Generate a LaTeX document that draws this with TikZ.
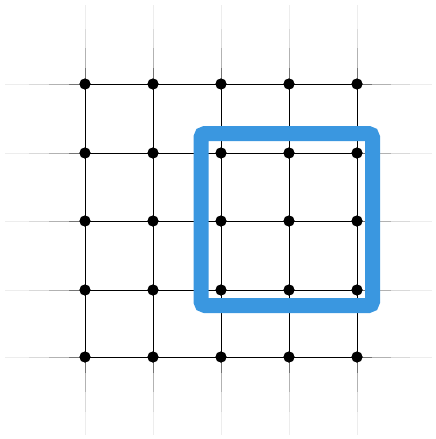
\documentclass[tikz,border=0pt]{standalone}
\usetikzlibrary{calc}
\definecolor{selblue}{RGB}{58,151,224}
\begin{document}
\begin{tikzpicture}[x=1pt,y=-1pt,
  dot/.style={circle,fill=black,inner sep=0pt,minimum size=11pt},
  gridline/.style={line width=0.9pt,black},
  fadeline/.style={line width=0.9pt,black,opacity=#1},
  sel/.style={draw=selblue,line width=15pt,rounded corners=4pt}]
\useasboundingbox (0,0) rectangle (436,439);
% dots
\foreach \i/\x in {1/85,2/153,3/221,4/289,5/357}
  \foreach \j/\y in {1/84,2/153,3/221,4/290,5/357}
    \node[dot] (d\i\j) at (\x,\y) {};
% end points of the fading extensions
\foreach \j/\y in {1/84,2/153,3/221,4/290,5/357} {
  \coordinate (L\j) at (5,\y);
  \coordinate (R\j) at (432,\y);
}
\foreach \i/\x in {1/85,2/153,3/221,4/289,5/357} {
  \coordinate (T\i) at (\x,5);
  \coordinate (B\i) at (\x,435);
}
% inner grid lines
\foreach \i in {1,2,3,4,5}
  \foreach \j/\k in {1/2,2/3,3/4,4/5} {
    \draw[gridline] (d\i\j.center) -- (d\i\k.center);
    \draw[gridline] (d\j\i.center) -- (d\k\i.center);
  }
% fading extensions
\foreach \n in {1,2,3,4,5}
  \foreach \a/\b/\o in {0/0.2/0.55,0.2/0.45/0.3,0.45/0.7/0.15,0.7/1/0.07} {
    \draw[fadeline=\o] ($(d1\n)!\a!(L\n)$) -- ($(d1\n)!\b!(L\n)$);
    \draw[fadeline=\o] ($(d5\n)!\a!(R\n)$) -- ($(d5\n)!\b!(R\n)$);
    \draw[fadeline=\o] ($(d\n1)!\a!(T\n)$) -- ($(d\n1)!\b!(T\n)$);
    \draw[fadeline=\o] ($(d\n5)!\a!(B\n)$) -- ($(d\n5)!\b!(B\n)$);
  }
% dots drawn again on top of the lines
\foreach \i in {1,2,3,4,5}
  \foreach \j in {1,2,3,4,5}
    \fill (d\i\j.center) circle (5.5pt);
% selection frame
\draw[sel] (201,133.5) rectangle (372.5,305.5);
\end{tikzpicture}
\end{document}
